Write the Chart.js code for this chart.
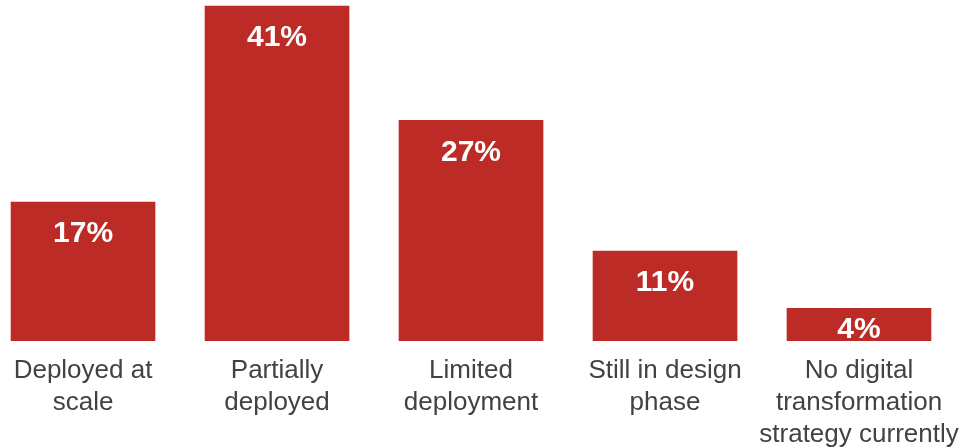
<!DOCTYPE html>
<html lang="en">
<head>
  <meta charset="UTF-8" />
  <title>Deployment status</title>
  <script src="https://cdn.jsdelivr.net/npm/chart.js"></script>
  <style>
    html, body { margin: 0; padding: 0; background: #fff; }
    #wrap { width: 969px; height: 447px; }
  </style>
</head>
<body>
  <div id="wrap"><canvas id="chart"></canvas></div>

  <script>
    const categories = [
      ['Deployed at', 'scale'],
      ['Partially', 'deployed'],
      ['Limited', 'deployment'],
      ['Still in design', 'phase'],
      ['No digital', 'transformation', 'strategy currently']
    ];
    const shares = [17, 41, 27, 11, 4];

    const barRed = '#bd2b27';
    const labelFont = '"Liberation Sans", Arial, sans-serif';

    // white percentage labels inside the top of each bar
    const valueLabels = {
      id: 'valueLabels',
      afterDatasetsDraw(chart) {
        const ctx = chart.ctx;
        const meta = chart.getDatasetMeta(0);
        meta.data.forEach((bar, i) => {
          const w = bar.width;
          ctx.save();
          ctx.beginPath();
          ctx.rect(bar.x - w / 2, bar.y, w, bar.base - bar.y);
          ctx.clip();
          ctx.fillStyle = '#fff';
          ctx.font = 'bold 30px ' + labelFont;
          ctx.textAlign = 'center';
          ctx.textBaseline = 'middle';
          const y = Math.min(bar.y + 32, bar.base - 11);
          ctx.fillText(shares[i] + '%', bar.x, y);
          ctx.restore();
        });
      }
    };

    new Chart(document.getElementById('chart'), {
      type: 'bar',
      data: {
        datasets: [{
          data: shares.map((v, i) => ({ x: i, y: v })),
          backgroundColor: barRed,
          borderWidth: 0,
          barThickness: 144
        }]
      },
      options: {
        responsive: true,
        maintainAspectRatio: false,
        animation: false,
        layout: { padding: 0 },
        plugins: {
          legend: { display: false },
          tooltip: { enabled: false }
        },
        scales: {
          x: {
            type: 'linear',
            offset: false,
            min: -0.428,
            max: 4.567,
            grid: { display: false, drawTicks: false, offset: false },
            border: { display: false },
            afterBuildTicks: (axis) => {
              axis.ticks = categories.map((c, i) => ({ value: i }));
            },
            afterFit: (axis) => {
              axis.height = 106;
              axis.paddingLeft = 0;
              axis.paddingRight = 0;
            },
            ticks: {
              autoSkip: false,
              maxRotation: 0,
              padding: 14,
              color: '#424242',
              font: { family: labelFont, size: 26, lineHeight: 1.23 },
              callback: (value) => categories[value]
            }
          },
          y: {
            display: false,
            min: 0,
            max: 41.74
          }
        }
      },
      plugins: [valueLabels]
    });
  </script>
</body>
</html>
